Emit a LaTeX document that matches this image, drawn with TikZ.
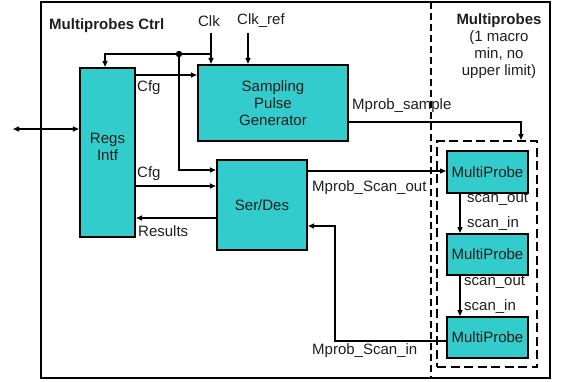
\documentclass[tikz,border=0pt]{standalone}
\usepackage{fontspec}
\setmainfont{Liberation Sans}
\usetikzlibrary{arrows.meta,calc}
\definecolor{teal1}{RGB}{51,204,204}
\definecolor{txt}{RGB}{30,30,30}
\newcommand{\dfont}{\fontsize{15}{17.2}\selectfont}
\tikzset{
  blk/.style={draw=black,fill=teal1,line width=2.3pt,inner sep=0pt,text=txt,align=center},
  conn/.style={line width=1.3pt,-{Triangle[length=6pt,width=5pt]}},
  lbl/.style={text=txt,inner sep=0pt,anchor=west},
  ttl/.style={text=txt,inner sep=0pt,align=center,font=\dfont\bfseries},
}
\begin{document}
\begin{tikzpicture}[x=1pt,y=-1pt,font=\dfont]
\useasboundingbox (0,0) rectangle (563,381);
% outer frame
\draw[line width=2.4pt] (41,2) rectangle (550,378);
\draw[line width=2pt,dash pattern=on 7pt off 4pt] (431,2) -- (431,378);
% titles
\node[ttl,anchor=west] (t1) at (49,26) {Multiprobes Ctrl};
\node[ttl] (t2) at (499,46) {Multiprobes\\\mdseries(1 macro\\\mdseries min, no\\\mdseries upper limit)};
% blocks
\node[blk,minimum width=55pt,minimum height=169pt] (regs) at (107.5,152.5) {};
\node[text=txt,align=center,inner sep=0pt] (regsT) at (107.5,147) {Regs\\Intf};
\node[blk,minimum width=150pt,minimum height=76pt] (spg) at (273,103) {Sampling\\Pulse\\Generator};
\node[blk,minimum width=90pt,minimum height=90pt] (sd) at (262,205) {Ser/Des};
\node[draw,line width=2pt,dash pattern=on 9pt off 4.5pt,minimum width=100pt,minimum height=226pt,inner sep=0pt] (grp) at (487,254) {};
\node[blk,line width=2pt,minimum width=81pt,minimum height=42pt] (mp1) at (487.5,172) {MultiProbe};
\node[blk,line width=2pt,minimum width=81pt,minimum height=41pt] (mp2) at (487.5,254.5) {MultiProbe};
\node[blk,line width=2pt,minimum width=81pt,minimum height=41pt] (mp3) at (487.5,337.5) {MultiProbe};
% clocks
\node[text=txt,inner sep=0pt] (clk) at (209,21) {Clk};
\node[text=txt,inner sep=0pt] (clkr) at (261,21) {Clk\_ref};
\coordinate (clkTop) at (211,33);
\coordinate (clkrTop) at (248,33);
\draw[conn] (clkTop) -- (clkTop |- spg.north);
\draw[conn] (clkrTop) -- (clkrTop |- spg.north);
\coordinate (j1) at (211,54);
\coordinate (dot) at (179,54);
\coordinate (rTop) at (105,54);
\draw[conn] (j1) -- (rTop) -- (rTop |- regs.north);
\fill (dot) circle (3.2pt);
\coordinate (sdClk) at (179,170);
\draw[conn] (dot) -- (sdClk) -- (sdClk -| sd.west);
% left bidirectional
\coordinate (ext) at (13,129);
\draw[line width=1.3pt,{Triangle[length=6pt,width=5pt]}-{Triangle[length=6pt,width=5pt]}] (ext) -- (ext -| regs.west);
% Cfg
\coordinate (c1) at (135,75);
\draw[conn] (c1) -- (c1 -| spg.west);
\node[lbl] (cfg1) at (137,88) {Cfg};
\coordinate (c2) at (135,186);
\draw[conn] (c2) -- (c2 -| sd.west);
\node[lbl] (cfg2) at (137,174) {Cfg};
\coordinate (r1) at (217,218);
\draw[conn] (r1) -- (r1 -| regs.east);
\node[lbl] (res) at (138,231) {Results};
% Mprob_sample
\coordinate (ms) at (348,122);
\coordinate (msc) at (521,122);
\draw[conn] (ms) -- (msc) -- (msc |- grp.north);
\node[lbl] (msl) at (352,106) {Mprob\_sample};
% scan out
\coordinate (so) at (307,171);
\draw[conn] (so) -- (so -| mp1.west);
\node[lbl] (sol) at (312,188) {Mprob\_Scan\_out};
% chain
\coordinate (k1) at (460,193);
\draw[conn] (k1) -- (k1 |- mp2.north);
\node[lbl] (so1) at (467,199) {scan\_out};
\node[lbl] (si1) at (467,224) {scan\_in};
\coordinate (k2) at (460,275);
\draw[conn] (k2) -- (k2 |- mp3.north);
\node[lbl] (so2) at (464,282) {scan\_out};
\node[lbl] (si2) at (464,307) {scan\_in};
% scan in
\coordinate (sia) at (447,341);
\coordinate (sib) at (335,341);
\coordinate (sic) at (335,226);
\draw[conn] (sia) -- (sib) -- (sic) -- (sic -| sd.east);
\node[lbl] (sil) at (312,351) {Mprob\_Scan\_in};
\end{tikzpicture}
\end{document}
